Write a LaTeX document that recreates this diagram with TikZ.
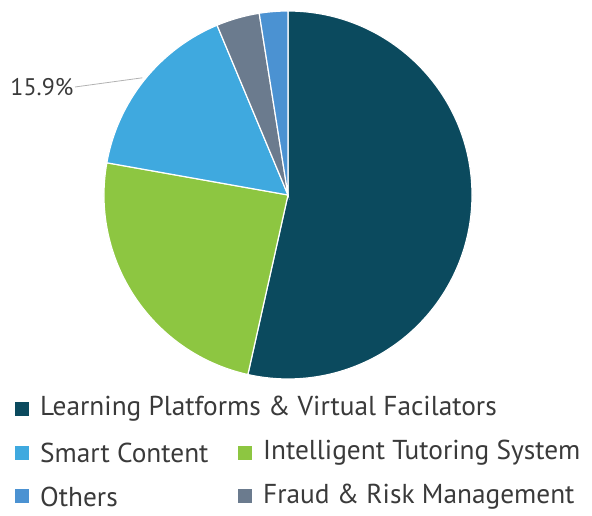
\documentclass[tikz,border=0pt]{standalone}
\usepackage{fontspec}
\setmainfont{PT Sans}
\usetikzlibrary{positioning,calc}

\definecolor{platcol}{HTML}{0B4A5E}
\definecolor{tutorcol}{HTML}{8DC641}
\definecolor{smartcol}{HTML}{3FA9DF}
\definecolor{fraudcol}{HTML}{6B7B8E}
\definecolor{othercol}{HTML}{4B92D2}
\definecolor{labelcol}{HTML}{3A3A3A}

\tikzset{
  slice/.style={draw=white, line width=0.9pt},
  legkey/.style={minimum size=10.5pt, inner sep=0pt, fill=#1},
  legtext/.style={font=\fontsize{20.5}{22}\selectfont, text=labelcol, inner sep=0pt, anchor=west},
}

\begin{document}
\begin{tikzpicture}[x=0.75pt, y=0.75pt]
  \useasboundingbox (0,0) rectangle (592,516);
  \coordinate (c) at (288,321);

  % slices, clockwise from the top
  \foreach \pct/\col [remember=\e as \s (initially 90)] in
      {53.5/platcol, 24.3/tutorcol, 15.9/smartcol, 3.8/fraudcol, 2.5/othercol} {
    \pgfmathsetmacro{\e}{\s-3.6*\pct}
    \filldraw[slice, fill=\col] (c) -- ++(\s:184) arc[start angle=\s, end angle=\e, radius=184] -- cycle;
  }

  % value label
  \coordinate (tip) at ($(c)+(141.2:187)$);
  \node[font=\fontsize{18}{20}\selectfont, text=labelcol, inner sep=1pt, anchor=east] (pct) at (75,429) {15.9\%};
  \draw[gray!60, line width=0.6pt] (pct.east) -- (tip);

  % legend
  \node[legkey=platcol] (k1) at (22,107) {};
  \node[legtext, right=8pt of k1] (t1) {Learning Platforms \& Virtual Facilators};
  \node[legkey=smartcol] (k2) at (22,63) {};
  \node[legtext, right=8pt of k2] (t2) {Smart Content};
  \node[legkey=tutorcol] (k3) at (245,63) {};
  \node[legtext, right=8pt of k3] (t3) {Intelligent Tutoring System};
  \node[legkey=othercol] (k4) at (22,19.5) {};
  \node[legtext, right=8pt of k4] (t4) {Others};
  \node[legkey=fraudcol] (k5) at (245,19.5) {};
  \node[legtext, right=8pt of k5] (t5) {Fraud \& Risk Management};
\end{tikzpicture}
\end{document}
